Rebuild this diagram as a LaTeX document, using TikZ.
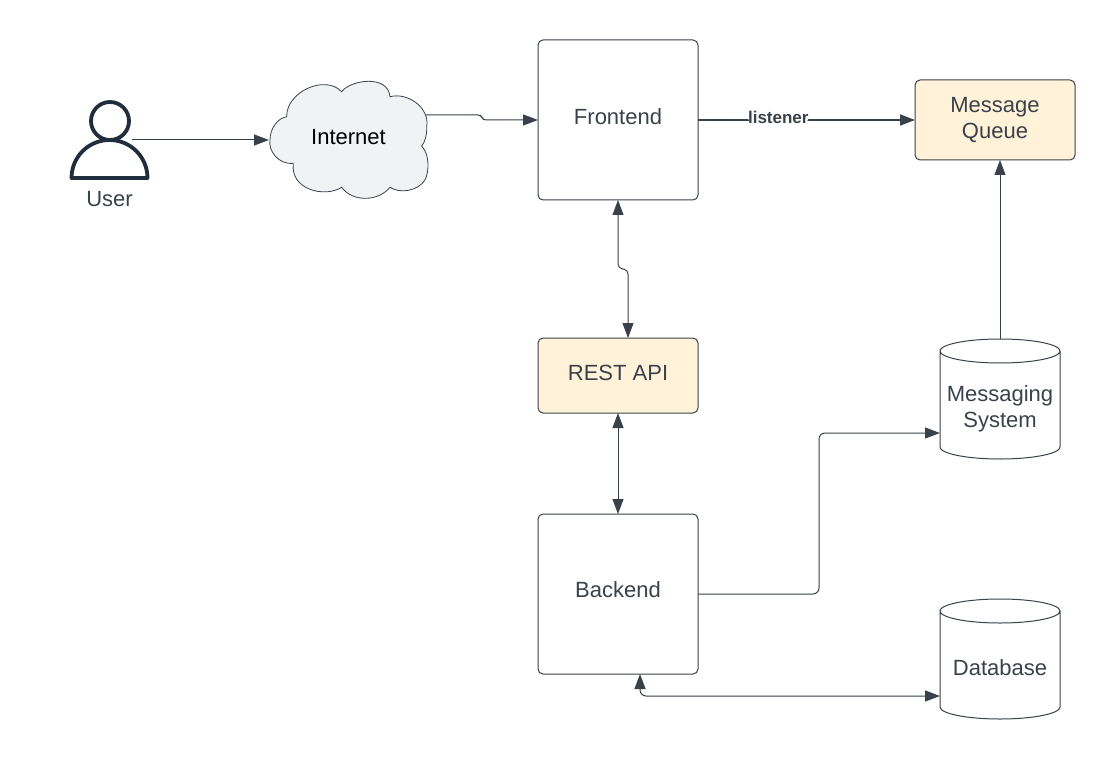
\documentclass[tikz,border=0pt]{standalone}
\usepackage{fontspec}
\setmainfont{Liberation Sans}
\usetikzlibrary{arrows.meta,calc}
\definecolor{ink}{HTML}{3A414A}
\definecolor{usr}{HTML}{1F2D3D}
\definecolor{cream}{HTML}{FFF2D9}
\definecolor{cloudfill}{HTML}{F1F2F4}
\tikzset{
  x=1pt,y=-1pt,
  txt/.style={font=\fontsize{22}{26}\selectfont,text=ink,align=center,inner sep=0pt,yshift=3.5pt},
  box/.style={draw=ink,line width=1pt,rounded corners=5pt,inner sep=0pt,outer sep=0pt,minimum width=160pt},
  square/.style={box,minimum height=160pt,fill=white},
  creambox/.style={box,fill=cream},
  drum/.style={inner sep=0pt,outer sep=0pt,minimum width=120pt,minimum height=120pt},
  drumline/.style={draw=ink,line width=1pt},
  conn/.style={draw=ink,line width=1pt,rounded corners=6pt,arrows={-Triangle[length=15pt,width=11pt]}},
  both/.style={conn,arrows={Triangle[length=15pt,width=11pt]-Triangle[length=15pt,width=11pt]}},
}
\newcommand{\drumcaps}[1]{%
  \draw[drumline] ([yshift=-12pt]#1.north west) arc[start angle=180,end angle=540,x radius=60,y radius=12]
    -- ([yshift=12pt]#1.south west) arc[start angle=180,end angle=360,x radius=60,y radius=-12]
    -- ([yshift=-12pt]#1.north east);
}
\begin{document}
\begin{tikzpicture}
\useasboundingbox (0,0) rectangle (1115,759);
% user
\draw[usr,line width=3.8pt,line join=round,fill=white] (71.5,178) arc[start angle=180,end angle=0,x radius=38,y radius=-38] -- cycle;
\node[circle,draw=usr,line width=3.8pt,fill=white,minimum size=38pt,inner sep=0pt] (head) at (110,121) {};
\node[txt,yshift=-3.5pt] (user) at (109.5,199.5) {User};
\coordinate (userport) at (132,140);
% cloud
\draw[draw=ink,line width=0.8pt,fill=cloudfill]
 (286.7,116.7) .. controls (286,92) and (325,74) .. (341.7,91.7)
 .. controls (350,80) and (388,74) .. (390,96.7)
 .. controls (408,92) and (430,108) .. (426.7,126.7)
 .. controls (427,135) and (425,142) .. (421.7,146)
 .. controls (430,155) and (429,172) .. (425,180)
 .. controls (418,191) and (400,194) .. (390,187.3)
 .. controls (378,202) and (352,202) .. (341.7,187.3)
 .. controls (325,198) and (290,190) .. (293.3,163.3)
 .. controls (278,165) and (268,150) .. (270,140)
 .. controls (270,128) and (278,118) .. (286.7,116.7) -- cycle;
\node[minimum width=157pt,minimum height=119pt,inner sep=0pt,outer sep=0pt,
  label={[txt,yshift=-1pt,xshift=1pt,text=black]center:Internet}] (internet) at (347.5,140) {};
% boxes
\node[square,label={[txt]center:Frontend}] (frontend) at (618,120) {};
\node[square,label={[txt,yshift=1pt]center:Backend}] (backend) at (618,594) {};
\node[creambox,minimum height=75pt,label={[txt,yshift=-1pt]center:REST API}] (rest) at (618,375.5) {};
\node[creambox,minimum height=80pt,label={[txt,yshift=-4pt]center:Message\\Queue}] (queue) at (995,120) {};
\node[drum,label={[txt,yshift=-13pt]center:Messaging\\System}] (msg) at (1000,399) {};
\node[drum,label={[txt,yshift=-12.5pt]center:Database}] (db) at (1000,659) {};
\drumcaps{msg}
\drumcaps{db}
% connectors
\draw[conn] (userport) -- (internet.west);
\draw[conn,rounded corners=3pt] ([yshift=25pt]internet.east) -- ++(55,0) -- ++(2,5) -- (frontend.west);
\draw[conn,line width=1.6pt] (frontend.east) -- node[pos=0.37,fill=white,inner sep=0pt,font=\bfseries\fontsize{17}{20}\selectfont,text=ink,yshift=3pt] (lis) {listener} (queue.west);
\draw[both,rounded corners=4pt] (frontend.south) -- ++(0,68) -- ++(10,2) -- ([xshift=10pt]rest.north);
\draw[both] (rest.south) -- (backend.north);
\draw[conn] (backend.east) -- ++(121,0) |- ([yshift=-34pt]msg.west);
\draw[conn] (msg.north) -- (msg.north |- queue.south);
\draw[both] ([xshift=22pt]backend.south) |- ([yshift=-37pt]db.west);
\end{tikzpicture}
\end{document}
